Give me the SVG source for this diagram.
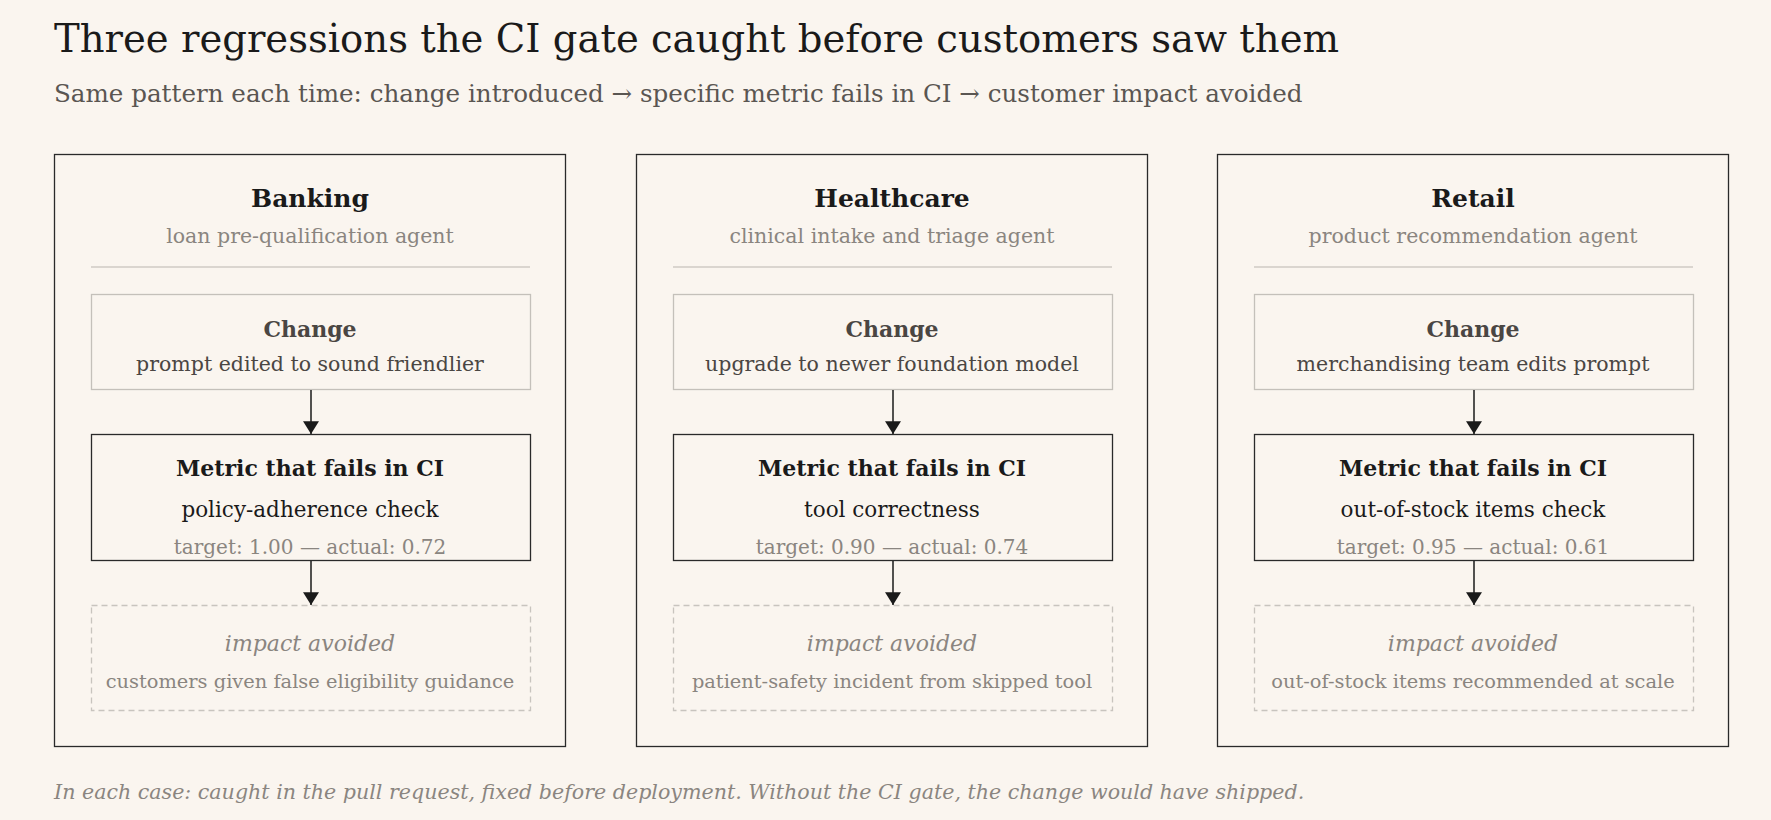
<svg xmlns="http://www.w3.org/2000/svg" width="1771" height="820" viewBox="0 0 1771 820">
<defs>
<marker id="ah" viewBox="0 0 16 20" refX="16" refY="10" markerWidth="20" markerHeight="16" markerUnits="userSpaceOnUse" orient="auto"><path d="M0,0 L16,10 L0,20 z" fill="#1a1a1a"/></marker>
<style>
text{font-family:"DejaVu Serif","Liberation Serif",serif;text-anchor:middle}
.panel{fill:none;stroke:#2a2a2a;stroke-width:1.3}
.h{font-size:25px;font-weight:bold;fill:#1a1a1a}
.sh{font-size:20.5px;fill:#8a8580}
.div{stroke:#cfcac4;stroke-width:1.3}
.chg{fill:none;stroke:#c4c0ba;stroke-width:1.3}
.ct{font-size:22px;font-weight:bold;fill:#4a4643}
.cv{font-size:20.5px;fill:#4a4643}
.met{fill:none;stroke:#2a2a2a;stroke-width:1.3}
.mt{font-size:22px;font-weight:bold;fill:#1a1a1a}
.mv{font-size:21.5px;fill:#1a1a1a}
.tg{font-size:20px;fill:#8a8580}
.imp{fill:none;stroke:#c8c4be;stroke-width:1.3;stroke-dasharray:6 4}
.it{font-size:22px;font-style:italic;fill:#8a8580}
.iv{font-size:19.4px;fill:#8a8580}
.arr{stroke:#1a1a1a;stroke-width:1.5;marker-end:url(#ah)}
</style>
</defs>
<rect width="1771" height="820" fill="#faf5ef"/>
<text x="54" y="52" style="text-anchor:start;font-size:38.6px;fill:#1a1a1a">Three regressions the CI gate caught before customers saw them</text>
<text x="54" y="102" style="text-anchor:start;font-size:24.6px;fill:#5a5652">Same pattern each time: change introduced → specific metric fails in CI → customer impact avoided</text>

<g id="banking">
<rect class="panel" x="54.5" y="154.5" width="511" height="592"/>
<text class="h" x="310" y="207">Banking</text>
<text class="sh" x="310" y="243">loan pre-qualification agent</text>
<line class="div" x1="91" y1="267" x2="530" y2="267"/>
<rect class="chg" x="91.5" y="294.5" width="439" height="95"/>
<text class="ct" x="310" y="337">Change</text>
<text class="cv" x="310" y="371">prompt edited to sound friendlier</text>
<rect class="met" x="91.5" y="434.5" width="439" height="126"/>
<text class="mt" x="310" y="476">Metric that fails in CI</text>
<text class="mv" x="310" y="517">policy-adherence check</text>
<text class="tg" x="310" y="554">target: 1.00 — actual: 0.72</text>
<rect class="imp" x="91.5" y="605.5" width="439" height="105"/>
<text class="it" x="310" y="651">impact avoided</text>
<text class="iv" x="310" y="688">customers given false eligibility guidance</text>
</g>

<g id="healthcare">
<rect class="panel" x="636.5" y="154.5" width="511" height="592"/>
<text class="h" x="892" y="207">Healthcare</text>
<text class="sh" x="892" y="243">clinical intake and triage agent</text>
<line class="div" x1="673" y1="267" x2="1112" y2="267"/>
<rect class="chg" x="673.5" y="294.5" width="439" height="95"/>
<text class="ct" x="892" y="337">Change</text>
<text class="cv" x="892" y="371">upgrade to newer foundation model</text>
<rect class="met" x="673.5" y="434.5" width="439" height="126"/>
<text class="mt" x="892" y="476">Metric that fails in CI</text>
<text class="mv" x="892" y="517">tool correctness</text>
<text class="tg" x="892" y="554">target: 0.90 — actual: 0.74</text>
<rect class="imp" x="673.5" y="605.5" width="439" height="105"/>
<text class="it" x="892" y="651">impact avoided</text>
<text class="iv" x="892" y="688">patient-safety incident from skipped tool</text>
</g>

<g id="retail">
<rect class="panel" x="1217.5" y="154.5" width="511" height="592"/>
<text class="h" x="1473" y="207">Retail</text>
<text class="sh" x="1473" y="243">product recommendation agent</text>
<line class="div" x1="1254" y1="267" x2="1693" y2="267"/>
<rect class="chg" x="1254.5" y="294.5" width="439" height="95"/>
<text class="ct" x="1473" y="337">Change</text>
<text class="cv" x="1473" y="371">merchandising team edits prompt</text>
<rect class="met" x="1254.5" y="434.5" width="439" height="126"/>
<text class="mt" x="1473" y="476">Metric that fails in CI</text>
<text class="mv" x="1473" y="517">out-of-stock items check</text>
<text class="tg" x="1473" y="554">target: 0.95 — actual: 0.61</text>
<rect class="imp" x="1254.5" y="605.5" width="439" height="105"/>
<text class="it" x="1473" y="651">impact avoided</text>
<text class="iv" x="1473" y="688">out-of-stock items recommended at scale</text>
</g>

<g id="connectors">
<line class="arr" x1="311" y1="390" x2="311" y2="434"/>
<line class="arr" x1="311" y1="561" x2="311" y2="605"/>
<line class="arr" x1="893" y1="390" x2="893" y2="434"/>
<line class="arr" x1="893" y1="561" x2="893" y2="605"/>
<line class="arr" x1="1474" y1="390" x2="1474" y2="434"/>
<line class="arr" x1="1474" y1="561" x2="1474" y2="605"/>
</g>

<text x="54" y="799" style="text-anchor:start;font-size:20.6px;font-style:italic;fill:#8a8580">In each case: caught in the pull request, fixed before deployment. Without the CI gate, the change would have shipped.</text>
</svg>
